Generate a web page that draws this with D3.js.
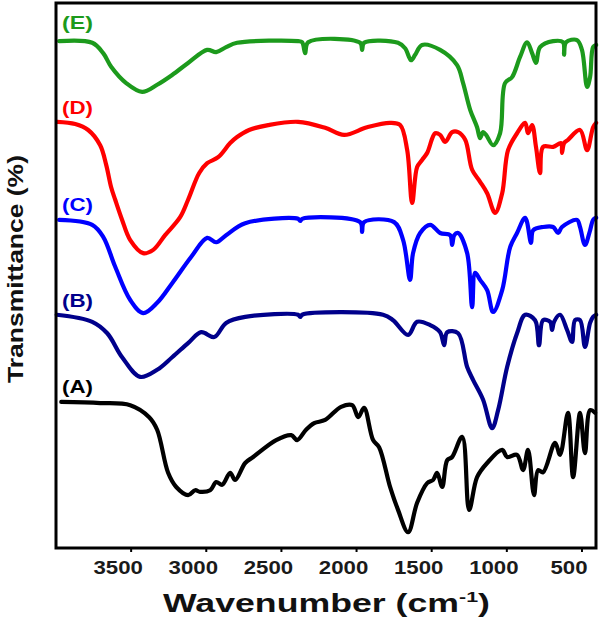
<!DOCTYPE html>
<html><head><meta charset="utf-8">
<script src="https://cdn.jsdelivr.net/npm/d3@7"></script>
<style>body{margin:0;background:#fff} svg{display:block}</style>
</head><body>
<svg id="c" width="600" height="617"></svg>
<script>
// ---- data (wavenumber cm-1, transmittance a.u. with vertical offsets) ----
const seriesNames = ["(A)", "(B)", "(C)", "(D)", "(E)"];
const seriesColors = ["#000000", "#00008b", "#0000ff", "#ff0000", "#1c9a1c"];
const labelLevels = [28.4, 44.2, 61.8, 79.6, 95.2];

const wnE = [3979,3759,3686,3633,3533,3427,3327,3227,3121,2994,2934,2868,2795,2389,2362,2342,2322,1976,1963,1950,1724,1677,1637,1610,1564,1444,1331,1291,1244,1198,1178,1158,1138,1091,1045,1012,965,912,865,832,806,779,692,626,619,606,533,500,466,446,426,406];
const tE  = [93.0,92.7,90.8,88.3,85.3,83.7,85.0,86.8,89.0,91.4,91.0,91.9,92.7,93.0,92.8,90.8,92.8,92.7,91.4,92.7,92.7,91.7,89.5,90.5,92.3,91.4,88.6,85.3,80.4,77.2,75.2,76.3,75.8,73.9,76.1,85.3,86.4,90.1,92.8,90.8,89.0,91.9,93.0,92.8,90.5,92.8,93.2,91.4,84.6,86.4,91.9,92.3];

const wnD = [3992,3872,3786,3706,3666,3633,3606,3560,3506,3420,3353,3274,3174,3121,3047,2994,2921,2841,2795,2715,2588,2389,2209,2083,1930,1777,1710,1663,1630,1597,1564,1530,1477,1444,1410,1364,1324,1277,1231,1178,1131,1078,1031,992,932,878,859,832,806,779,759,692,639,633,619,593,513,466,426,406];
const tD  = [78.2,77.8,76.7,73.9,70.3,66.2,63.9,60.2,56.5,54.1,54.7,57.4,60.7,63.9,68.8,70.6,71.7,74.3,75.4,76.7,77.6,78.2,77.1,75.8,77.2,78.0,77.6,73.0,63.3,69.9,71.2,72.5,76.1,75.8,74.5,76.3,76.3,74.9,69.4,67.2,65.1,61.5,65.1,73.0,76.1,78.0,76.1,77.6,73.6,68.8,73.6,73.6,74.3,72.5,74.3,74.9,76.7,73.0,77.2,78.0];

const wnC = [3979,3759,3686,3606,3506,3420,3327,3227,3101,2994,2934,2868,2741,2389,2375,2362,1976,1963,1950,1750,1690,1644,1624,1577,1510,1444,1377,1364,1350,1324,1264,1231,1211,1178,1131,1091,1031,978,932,878,839,825,759,692,659,633,533,513,480,446,426,406];
const tC  = [60.2,59.3,57.1,51.6,45.5,43.1,45.0,48.6,53.4,56.9,56.1,57.4,59.6,60.4,60.0,60.4,59.8,58.0,59.8,59.8,56.5,49.2,54.1,57.8,59.3,57.8,57.4,55.6,57.4,57.8,54.1,44.2,50.5,49.2,47.3,43.3,47.3,55.2,57.8,60.6,56.0,58.3,58.9,58.9,57.8,58.9,60.2,58.9,55.6,58.3,60.2,60.6];

const wnB = [3995,3759,3659,3560,3440,3327,3227,3121,3034,2947,2868,2741,2389,2375,2362,1824,1757,1657,1597,1510,1444,1417,1397,1324,1264,1224,1158,1098,1058,998,932,878,812,786,759,712,699,686,646,599,566,546,513,480,446,426,406];
const tB  = [42.8,41.5,39.4,35.0,31.4,32.7,35.0,37.6,39.6,38.7,41.3,42.4,42.8,42.4,42.8,42.8,41.8,39.1,41.5,40.9,39.6,37.2,39.6,39.4,33.2,30.8,27.2,22.0,25.3,33.2,39.4,42.8,41.8,37.2,41.8,41.5,40.0,41.5,42.8,40.0,37.8,41.8,41.8,36.9,41.3,42.4,42.8];

const wnA = [3965,3706,3506,3380,3327,3254,3200,3121,3074,3041,2974,2934,2894,2841,2808,2741,2688,2535,2435,2395,2336,2282,2209,2103,2029,1989,1950,1890,1850,1777,1724,1657,1597,1530,1490,1464,1430,1397,1364,1297,1251,1198,1131,1031,998,932,892,859,819,792,759,679,646,593,559,513,480,446,413];
const tA  = [26.8,26.6,26.2,24.0,21.7,13.8,11.2,9.7,10.6,10.3,10.6,12.1,11.6,13.8,12.5,15.6,16.7,19.8,20.7,19.8,21.7,22.9,23.5,25.9,26.2,24.0,25.7,19.8,18.5,11.2,7.0,2.9,8.3,11.9,12.5,13.8,11.2,16.1,16.7,20.4,7.0,13.0,15.6,18.0,16.7,17.1,14.3,18.0,9.7,14.3,13.9,19.3,17.1,24.8,13.0,24.8,17.4,25.3,24.8];

const xTicks = [3500, 3000, 2500, 2000, 1500, 1000, 500];
const xDomain = [4000, 400];
const yDomain = [0, 100];

const series = [
  {name: seriesNames[0], color: seriesColors[0], wn: wnA, t: tA, lv: labelLevels[0]},
  {name: seriesNames[1], color: seriesColors[1], wn: wnB, t: tB, lv: labelLevels[1]},
  {name: seriesNames[2], color: seriesColors[2], wn: wnC, t: tC, lv: labelLevels[2]},
  {name: seriesNames[3], color: seriesColors[3], wn: wnD, t: tD, lv: labelLevels[3]},
  {name: seriesNames[4], color: seriesColors[4], wn: wnE, t: tE, lv: labelLevels[4]}
];

// ---- layout ----
const svg = d3.select("#c");
const L = 56, R = 597, T = 3, B = 548;
const x = d3.scaleLinear().domain(xDomain).range([L, R]);
const y = d3.scaleLinear().domain(yDomain).range([B, T]);
const FONT = "'Liberation Sans', Arial, Helvetica, sans-serif";

// lines
const line = d3.line().x(d => x(d[0])).y(d => y(d[1])).curve(d3.curveCatmullRom.alpha(0.5));
series.forEach(s => {
  const pts = s.wn.map((w, i) => [w, s.t[i]]);
  svg.append("path").attr("d", line(pts))
    .attr("fill", "none").attr("stroke", s.color)
    .attr("stroke-width", 4.2).attr("stroke-linejoin", "round").attr("stroke-linecap", "round");
});

// frame
svg.append("rect").attr("x", L).attr("y", T).attr("width", R - L - 1).attr("height", B - T)
  .attr("fill", "none").attr("stroke", "#000").attr("stroke-width", 3);

// ticks
svg.selectAll(".tk").data(xTicks).join("line")
  .attr("x1", d => x(d)).attr("x2", d => x(d)).attr("y1", B).attr("y2", B + 4)
  .attr("stroke", "#000").attr("stroke-width", 2);

svg.selectAll(".tl").data(xTicks).join("text")
  .attr("transform", d => `translate(${x(d) - 13},574) scale(1.17,1)`)
  .attr("text-anchor", "middle").attr("font-family", FONT).attr("font-weight", "bold")
  .attr("font-size", 19).attr("fill", "#1a1a1a").text(d => d);

function fitText(sel, target) {
  const w = sel.node().getBBox().width;
  return target / w;
}

// series labels
series.forEach(s => {
  const t = svg.append("text").attr("font-family", FONT).attr("font-weight", "bold")
    .attr("font-size", 18).attr("fill", s.color).text(s.name);
  const sx = fitText(t, 31);
  t.attr("transform", `translate(62,${y(s.lv)}) scale(${sx},1)`);
});

// x title
const xt = svg.append("text").attr("font-family", FONT).attr("font-weight", "bold")
  .attr("font-size", 25).attr("fill", "#111");
xt.append("tspan").text("Wavenumber (cm");
xt.append("tspan").attr("font-size", 15).attr("dy", -10).text("-1");
xt.append("tspan").attr("dy", 10).text(")");
const sxt = fitText(xt, 327);
xt.attr("transform", `translate(163,612) scale(${sxt},1)`);

// y title
const yt = svg.append("text").attr("font-family", FONT).attr("font-weight", "bold")
  .attr("font-size", 22).attr("fill", "#111").attr("text-anchor", "middle")
  .text("Transmittance (%)");
const syt = fitText(yt, 228);
yt.attr("transform", `translate(23,269) rotate(-90) scale(${syt},1)`);
</script>
</body></html>
